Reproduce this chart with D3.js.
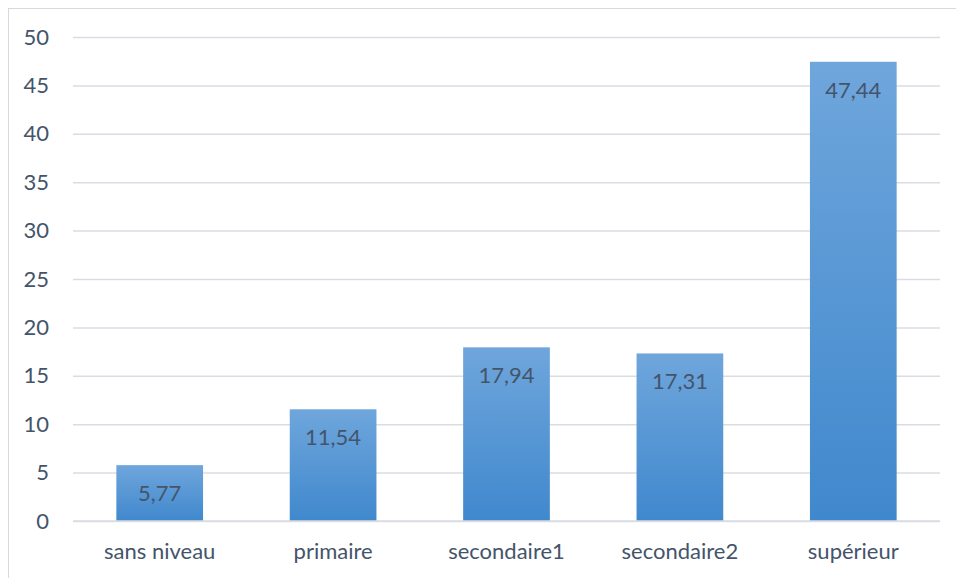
<!DOCTYPE html>
<html>
<head>
<meta charset="utf-8">
<script src="https://cdn.jsdelivr.net/npm/d3@7/dist/d3.min.js"></script>
<style>
  html, body { margin: 0; padding: 0; background: #fff; }
  svg { display: block; }
  text { font-family: Lato, "Open Sans", sans-serif; }
</style>
</head>
<body>
<svg id="chart" width="956" height="578"></svg>
<script>
// Niveau d'instruction (%)
const categories = ["sans niveau", "primaire", "secondaire1", "secondaire2", "supérieur"];
const values = [5.77, 11.54, 17.94, 17.31, 47.44];
const yTicks = [0, 5, 10, 15, 20, 25, 30, 35, 40, 45, 50];

const plotLeft = 73, plotRight = 940;
const textColor = "#44546a";
const gridColor = "#d9dde3";
const fontSize = 22;

const svg = d3.select("#chart");

// chart-area frame (only the top and left edges fall inside the view)
svg.append("rect")
  .attr("x", 8.5).attr("y", 8.5)
  .attr("width", 960).attr("height", 600)
  .attr("fill", "#fff")
  .attr("stroke", "#d9d9d9").attr("stroke-width", 1);

const x = d3.scaleBand()
  .domain(categories)
  .range([plotLeft, plotRight])
  .paddingInner(0.5).paddingOuter(0.25);

const y = d3.scaleLinear()
  .domain([0, 50])
  .range([521, 37]);

// gradient fill for bars
const defs = svg.append("defs");
const grad = defs.append("linearGradient")
  .attr("id", "barGrad").attr("x1", 0).attr("y1", 0).attr("x2", 0).attr("y2", 1);
grad.append("stop").attr("offset", "0%").attr("stop-color", "#6fa6dc");
grad.append("stop").attr("offset", "100%").attr("stop-color", "#4088cd");

// value axis with horizontal gridlines
const yAxis = d3.axisLeft(y).tickValues(yTicks)
  .tickSize(-(plotRight - plotLeft)).tickPadding(24);
const gy = svg.append("g")
  .attr("transform", `translate(${plotLeft},0)`)
  .call(yAxis);
gy.select(".domain").remove();
gy.selectAll(".tick line").attr("stroke", gridColor).attr("stroke-width", 1.5);
gy.selectAll(".tick text")
  .attr("fill", textColor)
  .attr("font-size", fontSize);

// bars
svg.append("g").selectAll("rect")
  .data(values)
  .join("rect")
  .attr("x", (d, i) => x(categories[i]))
  .attr("y", d => y(d))
  .attr("width", x.bandwidth())
  .attr("height", d => y(0) - y(d))
  .attr("fill", "url(#barGrad)");

// value labels inside the top of each bar
svg.append("g").selectAll("text")
  .data(values)
  .join("text")
  .attr("x", (d, i) => x(categories[i]) + x.bandwidth() / 2)
  .attr("y", d => y(d) + 36)
  .attr("text-anchor", "middle")
  .attr("fill", textColor)
  .attr("font-size", fontSize)
  .text(d => d3.format(".2f")(d).replace(".", ","));

// category axis
const xAxis = d3.axisBottom(x).tickSize(0).tickPadding(22);
const gx = svg.append("g")
  .attr("transform", `translate(0,${y(0)})`)
  .call(xAxis);
gx.select(".domain").attr("stroke", gridColor).attr("stroke-width", 1.5)
  .attr("d", `M${plotLeft},0H${plotRight}`);
gx.selectAll(".tick text")
  .attr("fill", textColor)
  .attr("font-size", fontSize);
</script>
</body>
</html>
